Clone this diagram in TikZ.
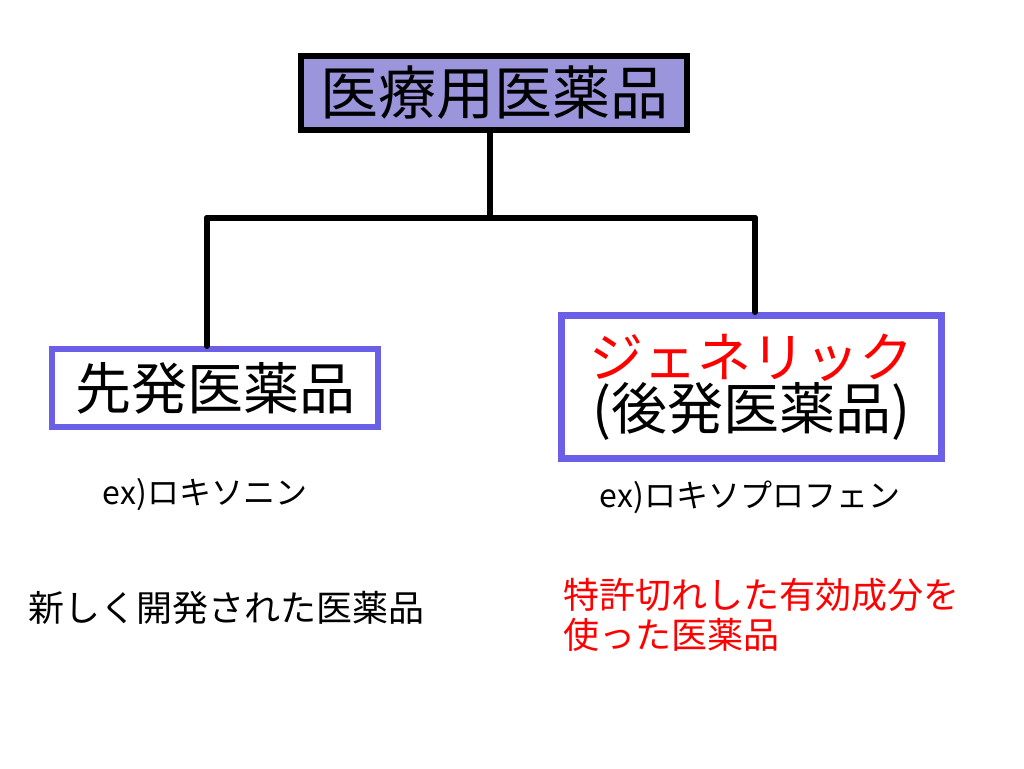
\documentclass[tikz,border=0pt]{standalone}
\usepackage{fontspec}
\setmainfont{Noto Sans CJK JP}
\begin{document}
\begin{tikzpicture}[x=1pt,y=-1pt,
  conn/.style={line width=6pt,black,line cap=round},
  lbl/.style={font=\fontsize{32}{38}\selectfont,inner sep=0pt},
  desc/.style={font=\fontsize{36}{40}\selectfont,inner sep=0pt}]
\useasboundingbox (0,0) rectangle (1024,768);
\definecolor{lav}{HTML}{9B95DB}
\definecolor{bv}{HTML}{6A5FE6}
\node[draw=black,line width=6pt,fill=lav,minimum width=386pt,minimum height=74pt,font=\fontsize{58}{64}\selectfont,inner sep=0pt] (top) at (494,93) {医療用医薬品};
\node[draw=bv,line width=6pt,fill=white,minimum width=326pt,minimum height=78pt,font=\fontsize{56}{62}\selectfont,inner sep=0pt] (left) at (215,388) {先発医薬品};
\node[draw=bv,line width=7pt,fill=white,minimum width=380pt,minimum height=143pt,inner sep=0pt,align=center] (right) at (751,387) {{\color{red}\fontsize{54}{64}\selectfont ジェネリック}\\{\fontsize{56}{64}\selectfont (後発医薬品)}};
\coordinate (j) at (490,218);
\coordinate (jl) at (207,218);
\coordinate (jr) at (755,218);
\draw[conn] (top.south -| j) -- (j);
\draw[conn] (jl) -- (jr);
\draw[conn] (jl) -- (left.north -| jl);
\draw[conn] (jr) -- (right.north -| jr);
\node[lbl] (exl) at (205,495) {ex)ロキソニン};
\node[lbl] (exr) at (750,497) {ex)ロキソプロフェン};
\node[desc,anchor=west] (dl) at (28,608) {新しく開発された医薬品};
\node[desc,anchor=north west,text=red,align=left] (dr) at (563,578) {特許切れした有効成分を\\使った医薬品};
\end{tikzpicture}
\end{document}
